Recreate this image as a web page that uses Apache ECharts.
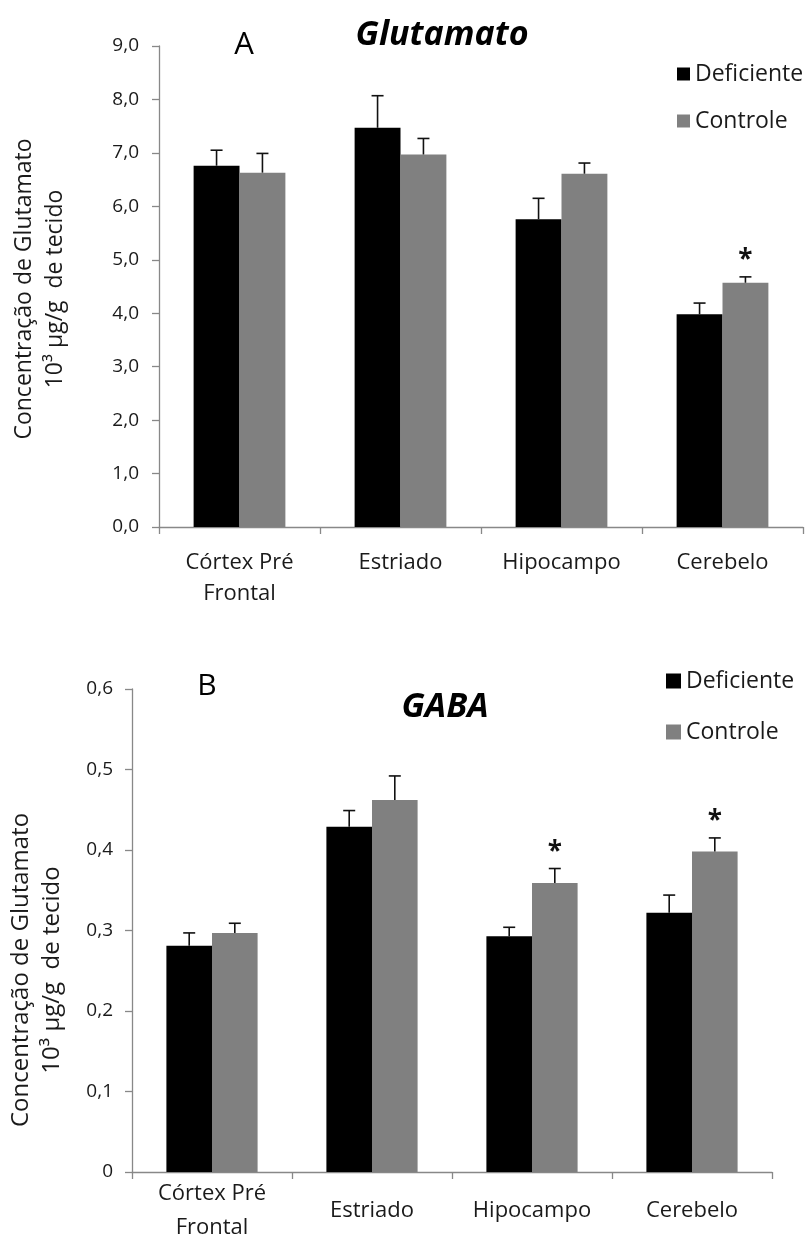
<!DOCTYPE html>
<html><head><meta charset="utf-8">
<script src="https://cdn.jsdelivr.net/npm/echarts@6/dist/echarts.min.js"></script>
<style>html,body{margin:0;padding:0;background:#fff}#c{width:811px;height:1245px}</style>
</head><body><div id="c"></div>
<script>
// ---------- data ----------
const categories = ['Córtex Pré\nFrontal', 'Estriado', 'Hipocampo', 'Cerebelo'];
const seriesNames = ['Deficiente', 'Controle'];

const gluDef    = [6.76, 7.47, 5.76, 3.98];
const gluDefErr = [0.29, 0.60, 0.39, 0.21];
const gluCon    = [6.63, 6.97, 6.61, 4.57];
const gluConErr = [0.36, 0.30, 0.20, 0.11];
const gluConSig = [0, 0, 0, 1];

const gabaDef    = [0.281, 0.429, 0.293, 0.322];
const gabaDefErr = [0.016, 0.020, 0.011, 0.022];
const gabaCon    = [0.297, 0.462, 0.359, 0.398];
const gabaConErr = [0.012, 0.030, 0.018, 0.017];
const gabaConSig = [0, 0, 1, 1];

const gluAxis  = {min: 0, max: 9, interval: 1};
const gabaAxis = {min: 0, max: 0.6, interval: 0.1};

const titles = ['Glutamato', 'GABA'];
const panelLetters = ['A', 'B'];
const yNameLines = ['Concentração de Glutamato', '10³ µg/g  de tecido'];

// ---------- style ----------
const FONT = '"Open Sans", "Noto Sans", sans-serif';
const BLACK = '#000000', GRAY = '#808080', AXIS = '#888888', TXT = '#1a1a1a';
const GAP = 0.43;

function errRender(side) {
  return function (params, api) {
    const i = api.value(0), v = api.value(1), e = api.value(2), s = api.value(3);
    const base = api.coord([i, v]);
    const top = api.coord([i, v + e]);
    const band = api.size([1, 0])[0];
    const x = base[0] + side * band * (1 - GAP) / 4;
    const st = {stroke: '#111', lineWidth: 1.6};
    const children = [
      {type: 'line', shape: {x1: x, y1: base[1], x2: x, y2: top[1]}, style: st},
      {type: 'line', shape: {x1: x - 6, y1: top[1], x2: x + 6, y2: top[1]}, style: st}
    ];
    if (s) {
      children.push({type: 'text', style: {text: '*', x: x, y: top[1] - 16,
        align: 'center', verticalAlign: 'middle', fill: '#111',
        font: 'bold 26px ' + FONT}});
    }
    return {type: 'group', children: children};
  };
}

function fmtTop(v) { return v.toFixed(1).replace('.', ','); }
function fmtBot(v) { return v === 0 ? '0' : v.toFixed(1).replace('.', ','); }

const yAxisCommon = {
  type: 'value',
  axisLine: {show: true, lineStyle: {color: AXIS, width: 1.3}},
  axisTick: {show: true, length: 7, lineStyle: {color: AXIS, width: 1.3}},
  splitLine: {show: false},
};
const xAxisCommon = {
  type: 'category', data: categories,
  axisLine: {show: true, lineStyle: {color: AXIS, width: 1.3}},
  axisTick: {show: true, length: 7, alignWithLabel: false, lineStyle: {color: AXIS, width: 1.3}},
};

const chart = echarts.init(document.getElementById('c'), null, {renderer: 'canvas'});
chart.setOption({
  animation: false,
  backgroundColor: '#fff',
  textStyle: {fontFamily: FONT},
  title: [
    {text: titles[0], left: 437, top: 13, textAlign: 'center',
     textStyle: {fontFamily: FONT, fontStyle: 'italic', fontWeight: 'bold', fontSize: 34, color: '#000'}},
    {text: titles[1], left: 440, top: 685, textAlign: 'center',
     textStyle: {fontFamily: FONT, fontStyle: 'italic', fontWeight: 'bold', fontSize: 34, color: '#000'}},
    {text: panelLetters[0], left: 239, top: 25, textAlign: 'center',
     textStyle: {fontFamily: FONT, fontWeight: 'normal', fontSize: 31, color: '#000'}},
    {text: panelLetters[1], left: 202, top: 666, textAlign: 'center',
     textStyle: {fontFamily: FONT, fontWeight: 'normal', fontSize: 30, color: '#000'}}
  ],
  legend: [
    {data: seriesNames, orient: 'vertical', left: 677, top: 62, padding: 0,
     itemWidth: 13, itemHeight: 13, itemGap: 23, icon: 'rect',
     textStyle: {fontFamily: FONT, fontSize: 23, color: TXT, lineHeight: 24}},
    {data: seriesNames, orient: 'vertical', left: 666, top: 669, padding: 0,
     itemWidth: 15, itemHeight: 15, itemGap: 27, icon: 'rect',
     textStyle: {fontFamily: FONT, fontSize: 23, color: TXT, lineHeight: 24}}
  ],
  grid: [
    {left: 159, top: 46, width: 644, height: 481},
    {left: 132, top: 689, width: 640, height: 487}
  ],
  xAxis: [
    Object.assign({gridIndex: 0}, xAxisCommon, {
      axisLabel: {interval: 0, margin: 20, verticalAlign: 'top', lineHeight: 31,
        fontFamily: FONT, fontSize: 22, color: TXT}}),
    Object.assign({gridIndex: 1}, xAxisCommon, {
      axisLabel: {interval: 0, margin: 39, verticalAlign: 'middle', lineHeight: 34,
        fontFamily: FONT, fontSize: 22, color: TXT}})
  ],
  yAxis: [
    Object.assign({gridIndex: 0}, yAxisCommon, gluAxis, {
      axisLabel: {margin: 20, formatter: fmtTop, fontFamily: FONT, fontSize: 19, color: TXT}}),
    Object.assign({gridIndex: 1}, yAxisCommon, gabaAxis, {
      axisLabel: {margin: 19, formatter: fmtBot, fontFamily: FONT, fontSize: 19, color: TXT}})
  ],
  graphic: [
    {type: 'text', x: 40, y: 289, rotation: Math.PI / 2,
     style: {text: yNameLines.join('\n'), x: 0, y: 0, align: 'center', verticalAlign: 'middle',
       font: '23px ' + FONT, lineHeight: 31, fill: TXT}},
    {type: 'text', x: 37, y: 970, rotation: Math.PI / 2,
     style: {text: yNameLines.join('\n'), x: 0, y: 0, align: 'center', verticalAlign: 'middle',
       font: '24px ' + FONT, lineHeight: 31, fill: TXT}}
  ],
  series: [
    {name: seriesNames[0], type: 'bar', xAxisIndex: 0, yAxisIndex: 0, data: gluDef,
     itemStyle: {color: BLACK}, barGap: '0%', barCategoryGap: (GAP * 100) + '%'},
    {name: seriesNames[1], type: 'bar', xAxisIndex: 0, yAxisIndex: 0, data: gluCon,
     itemStyle: {color: GRAY}, barGap: '0%', barCategoryGap: (GAP * 100) + '%'},
    {name: seriesNames[0], type: 'bar', xAxisIndex: 1, yAxisIndex: 1, data: gabaDef,
     itemStyle: {color: BLACK}, barGap: '0%', barCategoryGap: (GAP * 100) + '%'},
    {name: seriesNames[1], type: 'bar', xAxisIndex: 1, yAxisIndex: 1, data: gabaCon,
     itemStyle: {color: GRAY}, barGap: '0%', barCategoryGap: (GAP * 100) + '%'},
    {type: 'custom', xAxisIndex: 0, yAxisIndex: 0, z: 5, renderItem: errRender(-1),
     encode: {x: 0, y: 1}, data: gluDef.map((v, i) => [i, v, gluDefErr[i], 0])},
    {type: 'custom', xAxisIndex: 0, yAxisIndex: 0, z: 5, renderItem: errRender(1),
     encode: {x: 0, y: 1}, data: gluCon.map((v, i) => [i, v, gluConErr[i], gluConSig[i]])},
    {type: 'custom', xAxisIndex: 1, yAxisIndex: 1, z: 5, renderItem: errRender(-1),
     encode: {x: 0, y: 1}, data: gabaDef.map((v, i) => [i, v, gabaDefErr[i], 0])},
    {type: 'custom', xAxisIndex: 1, yAxisIndex: 1, z: 5, renderItem: errRender(1),
     encode: {x: 0, y: 1}, data: gabaCon.map((v, i) => [i, v, gabaConErr[i], gabaConSig[i]])}
  ]
});
</script>
</body></html>
